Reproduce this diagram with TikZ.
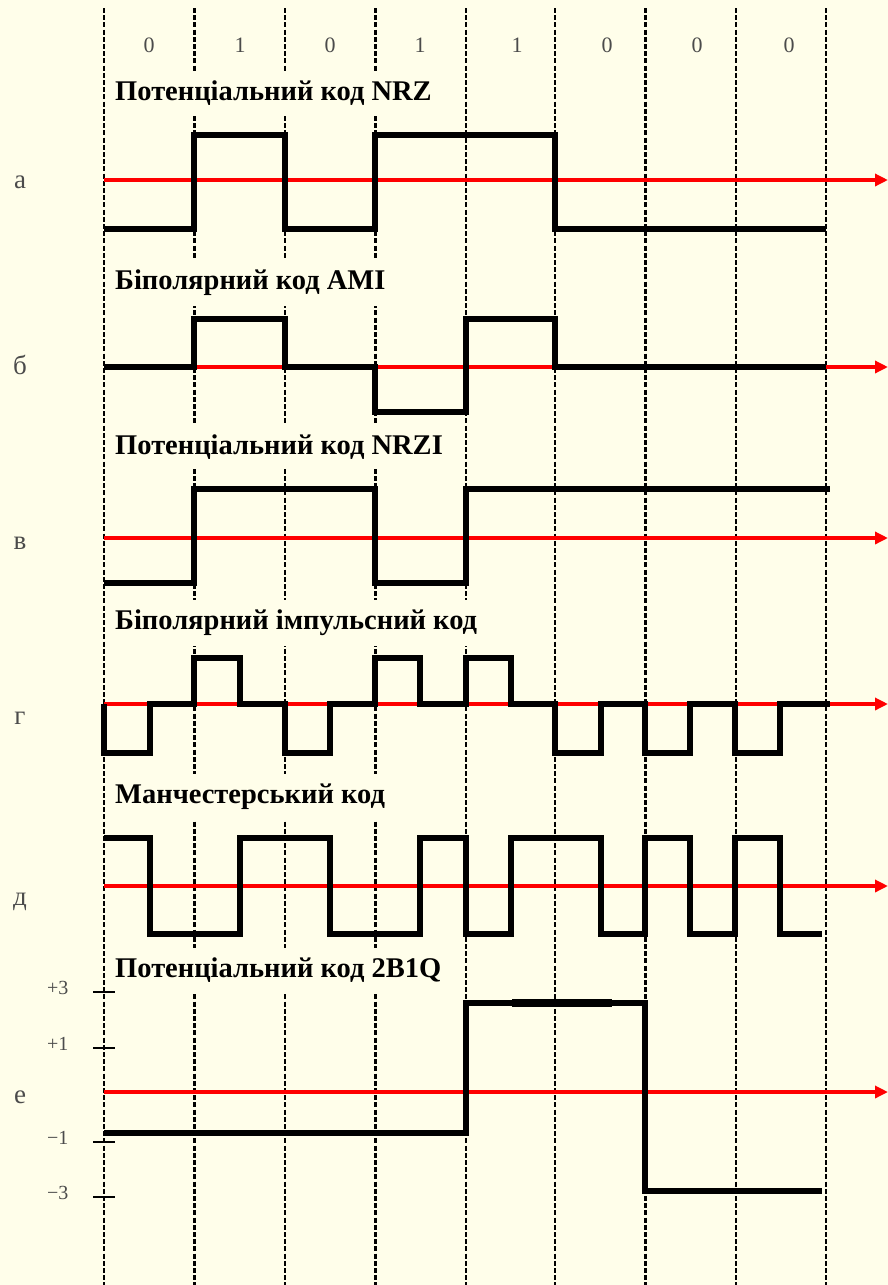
\documentclass[tikz,border=0pt]{standalone}
\usepackage{fontspec}
\setmainfont{Liberation Serif}
\usetikzlibrary{arrows.meta}
\definecolor{paper}{RGB}{255,254,234}
\definecolor{axisred}{RGB}{255,0,0}
\definecolor{labelgray}{RGB}{75,75,75}

\begin{document}
\begin{tikzpicture}[x=1pt,y=-1pt,
  grid/.style={black, line width=2.1pt, dash pattern=on 5pt off 2.2pt},
  axisline/.style={axisred, line width=4pt, -{Triangle[length=13pt,width=12pt]}},
  signal/.style={black, line width=5.5pt, line join=miter, line cap=butt},
  title/.style={font=\fontsize{28.5}{32}\selectfont\bfseries, anchor=west, fill=paper, inner xsep=2pt, inner ysep=10pt},
  bit/.style={font=\fontsize{22}{26}\selectfont, text=labelgray},
  rowlabel/.style={font=\fontsize{27}{30}\selectfont, text=labelgray},
  level/.style={font=\fontsize{20}{24}\selectfont, text=labelgray, anchor=east},
  tickmark/.style={black, line width=1.5pt}]

% paper
\fill[paper] (0,0) rectangle (888,1285);
\useasboundingbox (0,0) rectangle (888,1285);

% bit interval boundaries
\foreach \x in {104,194.5,285,375.5,466,555,645.5,736,826}
  \draw[grid] (\x,8) -- (\x,1285);

% bit values
\foreach \x/\b [count=\i] in {149/0,240/1,330/0,420/1,517/1,607/0,697/0,789/0}
  \node[bit] (bit\i) at (\x,45) {\b};

% code titles
\node[title] (tA) at (113,93)  {Потенціальний код NRZ};
\node[title] (tB) at (113,283) {Біполярний код AMI};
\node[title] (tC) at (113,447) {Потенціальний код NRZI};
\node[title] (tD) at (113,623) {Біполярний імпульсний код};
\node[title] (tE) at (113,797) {Манчестерський код};
\node[title] (tF) at (113,970) {Потенціальний код 2B1Q};

% row letters
\node[rowlabel] (lA) at (20,182)  {а};
\node[rowlabel] (lB) at (20,365)  {б};
\node[rowlabel] (lC) at (20,543)  {в};
\node[rowlabel] (lD) at (20,718)  {г};
\node[rowlabel] (lE) at (20,902)  {д};
\node[rowlabel] (lF) at (20,1097) {е};

% time axes
\foreach \y in {180,367,538,704,886,1092}
  \draw[axisline] (104,\y) -- (888,\y);

% NRZ
\draw[signal] (104,229) -- (194,229) -- (194,135) -- (285,135) -- (285,229)
  -- (375,229) -- (375,135) -- (555,135) -- (555,229) -- (826,229);

% AMI
\draw[signal] (104,367) -- (194,367) -- (194,319) -- (285,319) -- (285,367)
  -- (375,367) -- (375,412) -- (466,412) -- (466,319) -- (555,319)
  -- (555,367) -- (826,367);

% NRZI
\draw[signal] (104,583) -- (194,583) -- (194,489) -- (375,489) -- (375,583)
  -- (466,583) -- (466,489) -- (830,489);

% bipolar pulse code
\draw[signal] (104,704) -- (104,753) -- (150,753) -- (150,704) -- (194,704)
  -- (194,658) -- (240,658) -- (240,704) -- (285,704) -- (285,753)
  -- (330,753) -- (330,704) -- (375,704) -- (375,658) -- (420,658)
  -- (420,704) -- (466,704) -- (466,658) -- (511,658) -- (511,704)
  -- (555,704) -- (555,753) -- (601,753) -- (601,704) -- (645,704)
  -- (645,753) -- (690,753) -- (690,704) -- (735,704) -- (735,753)
  -- (780,753) -- (780,704) -- (830,704);

% Manchester
\draw[signal] (104,838) -- (150,838) -- (150,934) -- (240,934) -- (240,838)
  -- (330,838) -- (330,934) -- (420,934) -- (420,838) -- (466,838)
  -- (466,934) -- (511,934) -- (511,838) -- (601,838) -- (601,934)
  -- (645,934) -- (645,838) -- (690,838) -- (690,934) -- (735,934)
  -- (735,838) -- (780,838) -- (780,934) -- (822,934);

% 2B1Q
\draw[signal] (104,1133) -- (466,1133) -- (466,1003) -- (645,1003)
  -- (645,1191) -- (822,1191);
\draw[black, line width=8pt] (512,1003) -- (612,1003);

% 2B1Q levels
\foreach \y/\t [count=\i] in {992/+3,1048/+1,1142/−1,1197/−3} {
  \draw[tickmark] (93,\y) -- (115,\y);
  \node[level] (lev\i) at (72,\y-4) {\t};
}
\end{tikzpicture}
\end{document}
